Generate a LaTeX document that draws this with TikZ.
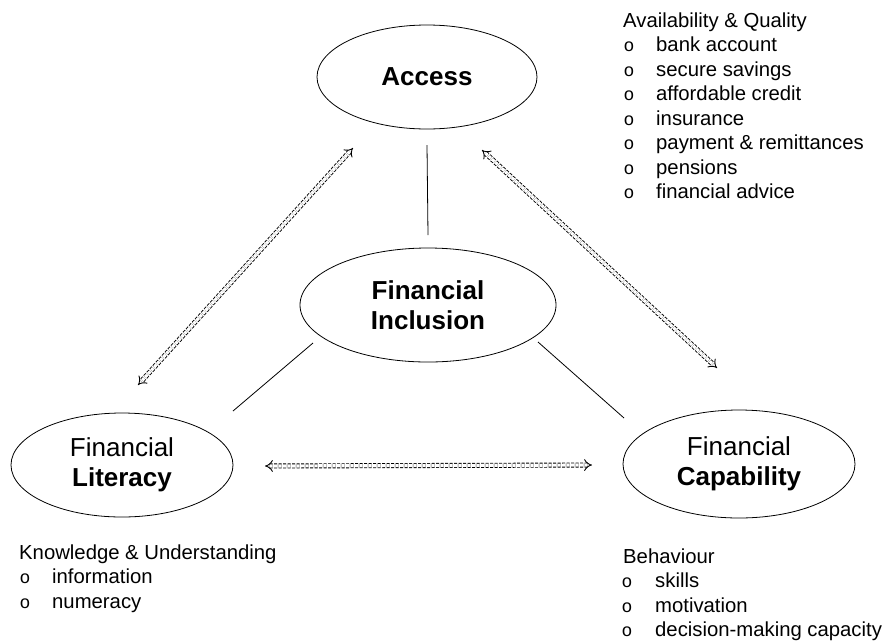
\documentclass[tikz,border=0pt]{standalone}
\usepackage{fontspec}
\setmainfont{Liberation Sans}
\newfontfamily\courfam{Liberation Mono}
\usetikzlibrary{shapes.geometric,arrows.meta,calc}
\begin{document}
\begin{tikzpicture}[x=1pt,y=-1pt,
  oval/.style={ellipse, draw, line width=0.8pt, inner sep=0pt, align=center,
    font=\fontsize{26}{30.5}\selectfont},
  link/.style={line width=0.8pt},
  dbl/.style={double, double distance=3.2pt, line width=0.9pt,
    dash pattern=on 3pt off 1.5pt, {Implies[length=6pt]}-{Implies[length=6pt]}},
  lst/.style={font=\fontsize{20.3}{24}\selectfont, anchor=base west, inner sep=0pt},
  bul/.style={font=\courfam\fontsize{18}{20}\selectfont, anchor=base, inner sep=0pt}]
\useasboundingbox (0,0) rectangle (886,641);
\node[oval, minimum width=220pt, minimum height=104pt] (A) at (427,77) {\textbf{Access}};
\node[oval, minimum width=256pt, minimum height=114pt] (I) at (428,305) {\textbf{Financial}\\\textbf{Inclusion}};
\node[oval, minimum width=222pt, minimum height=104pt] (L) at (122,465) {Financial\\\textbf{Literacy}};
\node[oval, minimum width=232pt, minimum height=108pt] (C) at (739,464) {Financial\\\textbf{Capability}};
% plain links
\draw[link] ($(A)+(0,68)$) -- ($(I)+(0,-70)$);
\draw[link] ($(I)+(-115,38)$) -- ($(L)+(111,-54)$);
\draw[link] ($(I)+(110,37)$) -- ($(C)+(-115,-46)$);
% double dashed arrows
\draw[dbl] ($(A)+(-74,71)$) -- ($(L)+(16,-80)$);
\draw[dbl] ($(A)+(55,73)$) -- ($(C)+(-22,-96)$);
\draw[dbl] ($(L)+(143,1)$) -- ($(C)+(-147,1)$);
% Access list
\node[lst] (a0) at (623,27) {Availability \& Quality};
\foreach \t [count=\i] in {bank account, secure savings, affordable credit, insurance,
  payment \& remittances, pensions, financial advice}{
  \node[bul] (ab\i) at (629,27+24.5*\i) {o};
  \node[lst] (at\i) at (656,27+24.5*\i) {\t};
}
% Literacy list
\node[lst] (k0) at (19,559) {Knowledge \& Understanding};
\foreach \t [count=\i] in {information, numeracy}{
  \node[bul] (kb\i) at (25,559+24.8*\i) {o};
  \node[lst] (kt\i) at (52,559+24.8*\i) {\t};
}
% Capability list
\node[lst] (b0) at (623,563) {Behaviour};
\foreach \t [count=\i] in {skills, motivation, decision-making capacity}{
  \node[bul] (bb\i) at (627,563+24.5*\i) {o};
  \node[lst] (bt\i) at (655,563+24.5*\i) {\t};
}
\end{tikzpicture}
\end{document}
